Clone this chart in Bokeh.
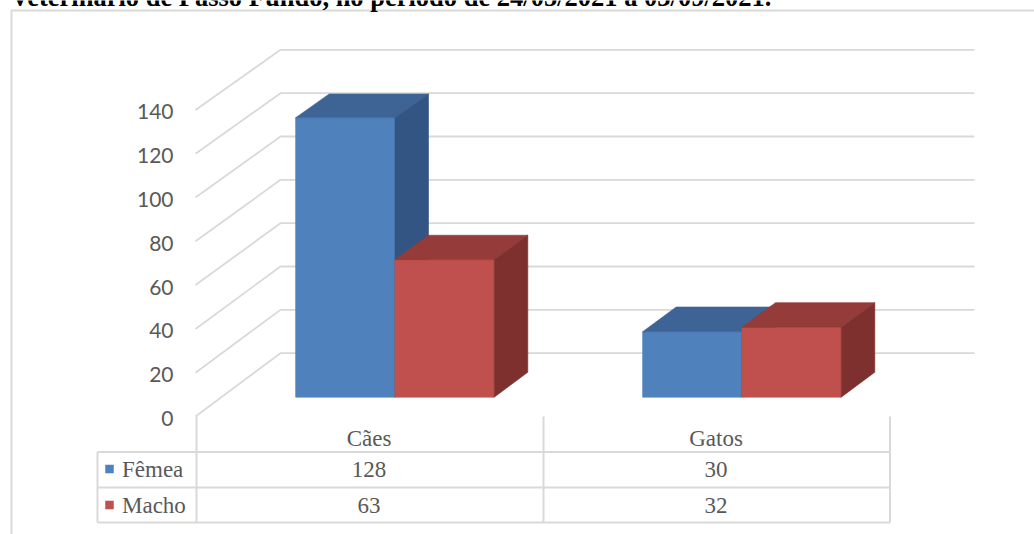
from bokeh.plotting import figure
from bokeh.models import Range1d
from bokeh.embed import file_html
from bokeh.resources import INLINE
from bokeh.core.properties import value

# ---------------- data ----------------
categories = ["Cães", "Gatos"]
series_names = ["Fêmea", "Macho"]
femea = [128, 30]
macho = [63, 32]
y_ticks = [0, 20, 40, 60, 80, 100, 120, 140]
title_text = "Veterinário de Passo Fundo, no período de 24/05/2021 a 03/09/2021."

# ---------------- layout constants (pixels) ----------------
W, H = 1034, 534
PX_X = 347.0      # px per category unit
PX_Y = 2.19       # px per value unit (front plane)
X0_PX = 368.5     # px of category 0 centre on the front plane
Y0_PX = 416.0     # px of value 0 on the front plane
DEPTH_X = 85.0    # full floor depth, px right
DEPTH_Y = 63.3    # full floor depth, px up
BACK_SHRINK = 0.0105  # slight perspective shrink toward the back wall


def X(px):
    return (px - X0_PX) / PX_X


def Y(px):
    return (Y0_PX - px) / PX_Y


def dxu(px):
    return px / PX_X


def proj(x, v, d):
    """project (category-x, value, depth 0..1) into data coordinates"""
    return x + d * DEPTH_X / PX_X, v * (1 - BACK_SHRINK * d) + d * DEPTH_Y / PX_Y


p = figure(width=W, height=H, x_range=Range1d(X(0), X(W)), y_range=Range1d(Y(H), Y(0)),
           output_backend="svg", toolbar_location=None, min_border=0,
           background_fill_color="white", border_fill_color="white")
p.outline_line_color = None
p.xaxis.visible = False
p.yaxis.visible = False
p.xgrid.visible = False
p.ygrid.visible = False

GRID = "#D9D9D9"
TXT = "#595959"

# outer frame (top + left)
p.line(x=[X(11), X(11), X(W + 5)], y=[Y(H + 5), Y(10), Y(10)], line_color=GRID, line_width=2)

# title (cut by the top of the picture, as in the source)
p.text(x=[X(10)], y=[Y(-4)], text=[title_text], text_font=value("Liberation Serif"),
       text_font_style="bold", text_font_size="26.5px", text_color="black",
       text_align="left", text_baseline="alphabetic")

# gridlines: left wall diagonal + back wall horizontal
left_x = -0.5
right_x = 1.5
gxs, gys = [], []
for v in y_ticks:
    a = proj(left_x, v, 0)
    b = proj(left_x, v, 1)
    c = proj(right_x, v, 1)
    gxs.append([a[0], b[0], c[0]])
    gys.append([a[1], b[1], c[1]])
p.multi_line(xs=gxs, ys=gys, line_color=GRID, line_width=1.8)

# y tick labels
p.text(x=[X(173)] * len(y_ticks), y=y_ticks, text=[str(t) for t in y_ticks],
       text_font=value("Lato"), text_font_size="21px", text_color=TXT,
       text_align="right", text_baseline="middle", y_offset=2)

# 3D bars
D_F = 0.305
D_B = 0.70
BAR_W = dxu(99.3)
colors = {
    "Fêmea": ("#4F81BD", "#3D6494", "#335584"),
    "Macho": ("#C0504D", "#953B39", "#7D302E"),
}
xs, ys, fills = [], [], []
for i, cat in enumerate(categories):
    for s, vals in enumerate([femea, macho]):
        v = vals[i]
        x0 = i - BAR_W + s * BAR_W
        x1 = x0 + BAR_W
        front, top, side = colors[series_names[s]]
        # front face
        pts = [proj(x0, 0, D_F), proj(x1, 0, D_F), proj(x1, v, D_F), proj(x0, v, D_F)]
        xs.append([q[0] for q in pts]); ys.append([q[1] for q in pts]); fills.append(front)
        # top face
        pts = [proj(x0, v, D_F), proj(x1, v, D_F), proj(x1, v, D_B), proj(x0, v, D_B)]
        xs.append([q[0] for q in pts]); ys.append([q[1] for q in pts]); fills.append(top)
        # right side face
        pts = [proj(x1, 0, D_F), proj(x1, 0, D_B), proj(x1, v, D_B), proj(x1, v, D_F)]
        xs.append([q[0] for q in pts]); ys.append([q[1] for q in pts]); fills.append(side)
p.patches(xs=xs, ys=ys, fill_color=fills, line_color=fills, line_width=0.6)

# ---------------- data table ----------------
T_LEFT, T_COL0, T_COL1, T_COL2 = 97, 196, 543, 889.5
T_TOP, T_R1, T_R2, T_BOT = 416, 451.5, 487, 522
tx = [[X(T_COL0), X(T_COL0)], [X(T_COL1), X(T_COL1)], [X(T_COL2), X(T_COL2)],
      [X(T_LEFT), X(T_LEFT)],
      [X(T_LEFT), X(T_COL2)], [X(T_LEFT), X(T_COL2)], [X(T_LEFT), X(T_COL2)]]
ty = [[Y(T_TOP), Y(T_BOT)], [Y(T_TOP), Y(T_BOT)], [Y(T_TOP), Y(T_BOT)],
      [Y(T_R1), Y(T_BOT)],
      [Y(T_R1), Y(T_R1)], [Y(T_R2), Y(T_R2)], [Y(T_BOT), Y(T_BOT)]]
p.multi_line(xs=tx, ys=ty, line_color=GRID, line_width=2)

font_tab = value("Liberation Serif")
FS_TAB = "23px"
cat_x = list(range(len(categories)))
p.text(x=cat_x, y=[Y(438)] * len(categories), text=categories, text_font=font_tab,
       text_font_size=FS_TAB, text_color=TXT, text_align="center", text_baseline="middle")
p.text(x=cat_x, y=[Y(469)] * len(categories), text=[str(v) for v in femea], text_font=font_tab,
       text_font_size=FS_TAB, text_color=TXT, text_align="center", text_baseline="middle")
p.text(x=cat_x, y=[Y(504.5)] * len(categories), text=[str(v) for v in macho], text_font=font_tab,
       text_font_size=FS_TAB, text_color=TXT, text_align="center", text_baseline="middle")

# legend keys inside the table
p.scatter(x=[X(109), X(109)], y=[Y(468.5), Y(504.5)], marker="square", size=8.5,
          fill_color=[colors["Fêmea"][0], colors["Macho"][0]], line_color=None)
p.text(x=[X(121.5), X(121.5)], y=[Y(469), Y(504.5)], text=series_names, text_font=font_tab,
       text_font_size=FS_TAB, text_color=TXT, text_align="left", text_baseline="middle")

open("out.html", "w").write(file_html(p, INLINE))
